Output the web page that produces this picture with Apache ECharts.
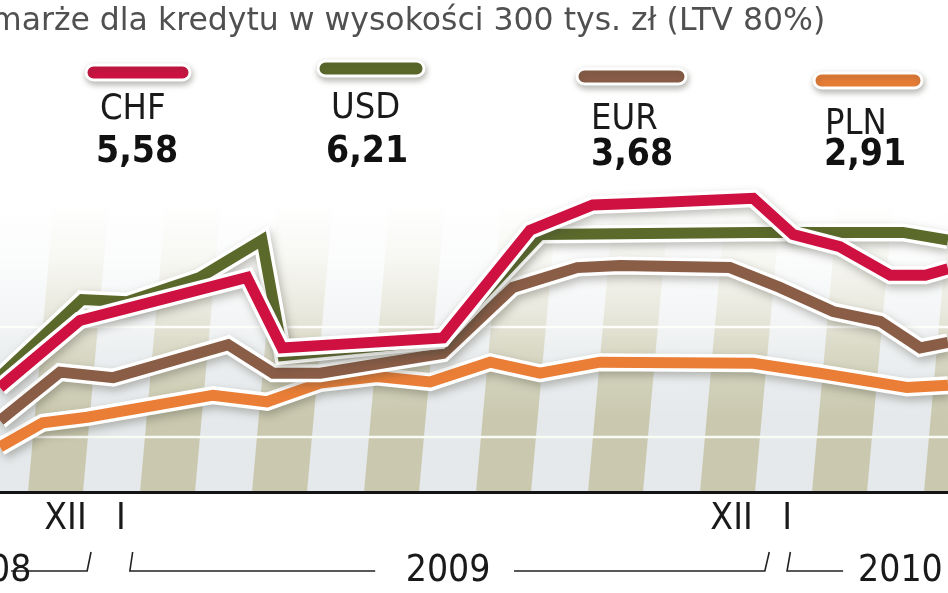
<!DOCTYPE html>
<html><head><meta charset="utf-8">
<script src="https://cdn.jsdelivr.net/npm/echarts@6/dist/echarts.min.js"></script>
<style>html,body{margin:0;padding:0;background:#fff;}#c{width:948px;height:593px;}</style>
</head><body><div id="c"></div>
<script>
// x = month index (0 = January 2009), y = margin value
const chfPoints = [[-2.18,2.45],[-0.74,3.06],[2.27,3.45],[2.90,2.81],[5.80,2.90],[7.37,3.88],[8.50,4.11],[9.59,4.13],[11.39,4.17],[12.11,3.84],[12.95,3.73],[13.86,3.47],[14.49,3.47],[14.90,3.53]];
const usdPoints = [[-2.18,2.55],[-0.70,3.25],[0.11,3.23],[1.42,3.45],[2.54,3.79],[2.92,2.74],[5.75,2.88],[7.55,3.84],[11.39,3.86],[14.09,3.86],[14.90,3.79]];
const eurPoints = [[-2.18,2.15],[-1.10,2.59],[-0.14,2.54],[1.93,2.84],[2.74,2.58],[3.59,2.58],[5.80,2.76],[7.06,3.36],[8.22,3.54],[8.99,3.56],[10.97,3.54],[11.87,3.36],[12.83,3.14],[13.68,3.05],[14.40,2.81],[14.90,2.86]];
const plnPoints = [[-2.18,1.91],[-1.41,2.13],[-0.61,2.18],[1.66,2.38],[2.63,2.32],[3.59,2.49],[4.61,2.55],[5.57,2.50],[6.65,2.68],[7.55,2.58],[8.63,2.68],[11.39,2.67],[12.59,2.58],[14.16,2.45],[14.90,2.47]];

const currencyNames = ['CHF','USD','EUR','PLN'];
const currencyValues = ['5,58','6,21','3,68','2,91'];
const monthTickValues = [-1, 0, 11, 12];
const monthTickLabels = ['XII','I','XII','I'];
const yearLabels = ['2008','2009','2010'];
const titleText = 'marże dla kredytu w wysokości 300 tys. zł (LTV 80%)';

// styles / layout
const currencyColors = ['#cf1141','#5b6a2b','#8a5d47','#ea7e37'];
const FONT = "'DejaVu Sans Condensed','DejaVu Sans',sans-serif";
const legendLayout = [
  {bx:86, by:65, bw:104, lx:100, ly:110, vx:96, vy:152},
  {bx:318, by:61, bw:106, lx:331, ly:109, vx:326, vy:152},
  {bx:577, by:69, bw:109, lx:591, ly:120, vx:591, vy:155},
  {bx:814, by:73, bw:108, lx:825, ly:125, vx:824, vy:155}
];

const chart = echarts.init(document.getElementById('c'), null, {renderer:'canvas'});
const seriesData = [chfPoints, usdPoints, eurPoints, plnPoints];
const drawOrder = [3, 2, 1, 0];
const series = [];
drawOrder.forEach((i, k) => {
  series.push({type:'line', data: seriesData[i], symbol:'none', silent:true, z: 2 + k*2,
    lineStyle:{color:'#ffffff', width:18, join:'miter', miterLimit:4, cap:'butt',
      shadowColor:'rgba(70,70,55,0.35)', shadowBlur:8, shadowOffsetX:2, shadowOffsetY:4}});
  series.push({type:'line', name: currencyNames[i], data: seriesData[i], symbol:'none', silent:true, z: 3 + k*2,
    lineStyle:{color: currencyColors[i], width:11, join:'miter', miterLimit:4, cap:'butt'}});
});

chart.setOption({
  animation:false,
  backgroundColor:'#ffffff',
  grid:{left:0, right:0, top:107, bottom:101, containLabel:false, outerBoundsMode:'none'},
  xAxis:{type:'value', min:-2.18, max:14.9, z:20,
    axisLine:{show:true, onZero:false, lineStyle:{color:'#141414', width:3}},
    axisTick:{show:false}, splitLine:{show:false},
    axisLabel:{customValues: monthTickValues,
      formatter: v => { const j = monthTickValues.indexOf(v); return j >= 0 ? monthTickLabels[j] : ''; },
      fontFamily: FONT, fontSize:37, color:'#1a1a1a', margin:9}},
  yAxis:{type:'value', min:1.5, max:5, show:false},
  series: series
});

const X = m => chart.convertToPixel({xAxisIndex:0}, m);
const Y = v => chart.convertToPixel({yAxisIndex:0}, v);
const W = chart.getWidth();
const yB = Y(1.5), yT = 178;
const g = [];
// background
g.push({type:'rect', z:0, silent:true, shape:{x:0, y:yT, width:W, height:yB - yT}, style:{fill:'#e5e9eb'}});
const slant = 0.09, h = yB - yT;
for (let k = -1; k < 10; k++) {
  const x0 = 28 + 112*k;
  g.push({type:'polygon', z:0, silent:true, shape:{points:[[x0,yB],[x0+55,yB],[x0+55+slant*h,yT],[x0+slant*h,yT]]}, style:{fill:'#cac9af'}});
}
[2, 3].forEach(v => {
  g.push({type:'line', z:0, silent:true, shape:{x1:0, y1:Y(v), x2:W, y2:Y(v)}, style:{stroke:'#fbfbf6', lineWidth:2.5}});
});
const stop = y => (y - yT) / h;
g.push({type:'rect', z:0, silent:true, shape:{x:0, y:yT-1, width:W, height:h+1},
  style:{fill:new echarts.graphic.LinearGradient(0,0,0,1,[
    {offset:0, color:'rgba(255,255,255,1)'},
    {offset:stop(205), color:'rgba(255,255,255,1)'},
    {offset:stop(260), color:'rgba(255,255,255,0.85)'},
    {offset:stop(310), color:'rgba(255,255,255,0.6)'},
    {offset:stop(350), color:'rgba(255,255,255,0.3)'},
    {offset:stop(390), color:'rgba(255,255,255,0.1)'},
    {offset:stop(420), color:'rgba(255,255,255,0)'},
    {offset:1, color:'rgba(255,255,255,0)'}])}});
// title
g.push({type:'text', z:30, x:-9, y:22, style:{text:titleText, font:"31.5px 'DejaVu Sans',sans-serif", fill:'#505050', textAlign:'left', textVerticalAlign:'middle'}});
// legend
currencyNames.forEach((name, i) => {
  const L = legendLayout[i];
  g.push({type:'rect', z:30, shape:{x:L.bx, y:L.by, width:L.bw, height:15, r:7.5},
    style:{fill:currencyColors[i], stroke:'#ffffff', lineWidth:3, shadowColor:'rgba(60,60,50,0.35)', shadowBlur:6, shadowOffsetX:1, shadowOffsetY:3}});
  g.push({type:'text', z:30, x:L.lx, y:L.ly, style:{text:name, font:"36px " + FONT, fill:'#1a1a1a', textAlign:'left', textVerticalAlign:'middle'}});
  g.push({type:'text', z:30, x:L.vx, y:L.vy, style:{text:currencyValues[i], font:"bold 37px " + FONT, fill:'#111111', textAlign:'left', textVerticalAlign:'middle'}});
});
// year brackets under the axis
const yl = yB + 79, yt = yB + 60;
const lineSt = {stroke:'#222222', lineWidth:1.6, fill:null};
g.push({type:'polyline', z:30, shape:{points:[[X(-1.98),yl],[X(-0.61),yl],[X(-0.54),yt]]}, style:lineSt});
g.push({type:'polyline', z:30, shape:{points:[[X(0.21),yt],[X(0.16),yl],[X(4.58),yl]]}, style:lineSt});
g.push({type:'polyline', z:30, shape:{points:[[X(7.08),yl],[X(11.60),yl],[X(11.68),yt]]}, style:lineSt});
g.push({type:'polyline', z:30, shape:{points:[[X(12.06),yt],[X(12.0),yl],[X(13.01),yl]]}, style:lineSt});
const yearX = [X(-3.14), X(5.13), X(13.28)];
yearLabels.forEach((t, i) => {
  g.push({type:'text', z:30, x:yearX[i], y:yl+0.5, style:{text:t, font:"37px " + FONT, fill:'#1a1a1a', textAlign:'left', textVerticalAlign:'middle'}});
});
chart.setOption({graphic:g});
</script></body></html>
